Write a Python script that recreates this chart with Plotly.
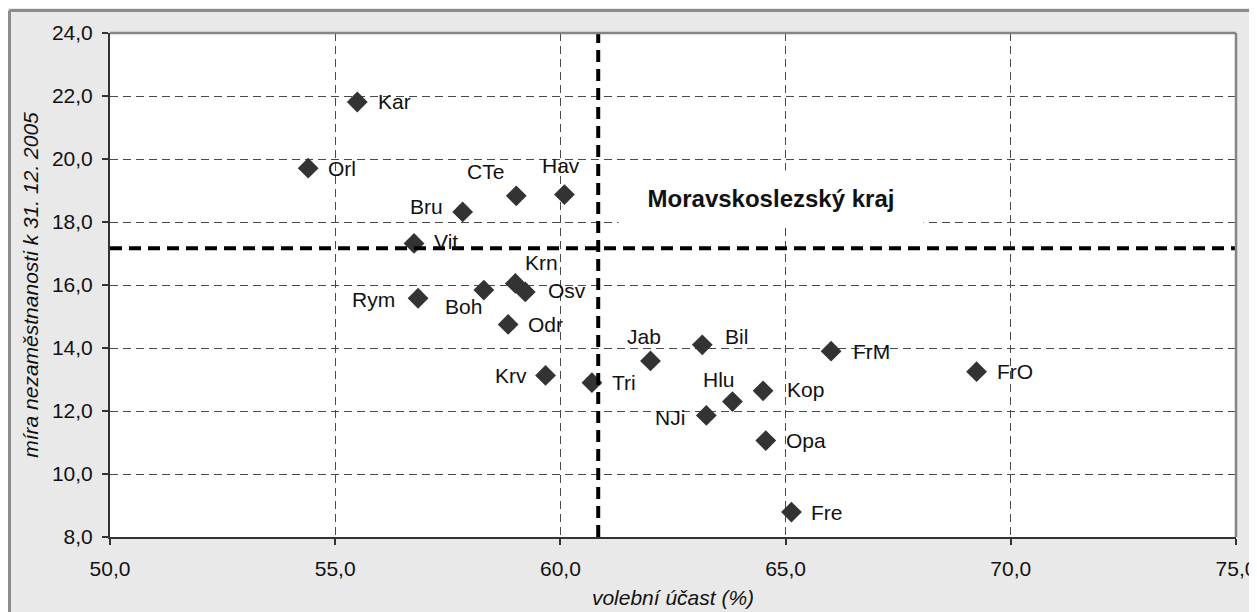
import plotly.graph_objects as go

# okresy Moravskoslezského kraje
names = ["Kar", "Orl", "CTe", "Hav", "Bru", "Vit", "Krn", "Osv", "Boh", "Rym", "Odr",
         "Krv", "Tri", "Jab", "Bil", "Hlu", "NJi", "Kop", "Opa", "Fre", "FrM", "FrO"]
turnout = [55.49, 54.40, 59.02, 60.09, 57.83, 56.75, 59.00, 59.22, 58.30, 56.84, 58.84,
           59.67, 60.70, 62.00, 63.15, 63.82, 63.24, 64.50, 64.56, 65.13, 66.01, 69.24]
unemployment = [21.81, 19.71, 18.83, 18.87, 18.32, 17.32, 16.05, 15.78, 15.84, 15.58, 14.75,
                13.13, 12.90, 13.59, 14.10, 12.30, 11.86, 12.64, 11.06, 8.79, 13.90, 13.25]

# průměr za kraj
region_name = "Moravskoslezský kraj"
region_turnout = 60.84
region_unemployment = 17.17

# label placement (anchor, x shift, y shift) in pixels
label_pos = {
    "Kar": ("left", 19, 0), "Orl": ("left", 18, 0), "CTe": ("center", -31, 24),
    "Hav": ("center", -3, 29), "Bru": ("center", -36, 5), "Vit": ("left", 18, 2),
    "Krn": ("center", 26, 21), "Osv": ("left", 21, 1), "Boh": ("center", -20, -16),
    "Rym": ("right", -21, -1), "Odr": ("left", 18, 0), "Krv": ("right", -17, 0),
    "Tri": ("left", 18, 0), "Jab": ("center", -6, 24), "Bil": ("left", 21, 8),
    "Hlu": ("center", -13, 22), "NJi": ("right", -19, -2), "Kop": ("left", 22, 1),
    "Opa": ("left", 18, 0), "Fre": ("left", 18, 0), "FrM": ("left", 20, 0),
    "FrO": ("left", 18, 0),
}

FONT = "Arial, Liberation Sans, sans-serif"
# page body keeps its 8px margin, which gives the white strip left and top
W, H = 1249, 604
L, R, T, B = 102, 21, 25, 75


def px(x):
    return (x - L) / (W - L - R)


def py(y):
    return (H - B - y) / (H - T - B)


fig = go.Figure()
fig.add_trace(go.Scatter(
    x=turnout, y=unemployment, mode="markers",
    marker=dict(symbol="diamond", size=16, color="#333333"),
    hovertext=names, showlegend=False))

for n, xv, yv in zip(names, turnout, unemployment):
    anchor, dx, dy = label_pos[n]
    fig.add_annotation(x=xv, y=yv, text=n, showarrow=False, xanchor=anchor,
                       yanchor="middle", xshift=dx, yshift=dy,
                       font=dict(family=FONT, size=21, color="#111111"))

fig.add_annotation(x=64.67, y=18.76, text="<b>" + region_name + "</b>", showarrow=False,
                   width=302, height=52, bgcolor="white",
                   font=dict(family=FONT, size=24, color="#111111"))

fig.add_vline(x=region_turnout, line=dict(color="black", width=4, dash="12px,7px"))
fig.add_hline(y=region_unemployment, line=dict(color="black", width=4, dash="12px,7px"))

# frame of the chart
shapes = [
    dict(type="line", xref="paper", yref="paper", x0=px(1.5), x1=px(1.5), y0=py(2.5), y1=py(700),
         line=dict(color="#8c8c8c", width=3)),
    dict(type="line", xref="paper", yref="paper", x0=px(1.5), x1=px(1300), y0=py(2.5), y1=py(2.5),
         line=dict(color="#8c8c8c", width=3)),
    dict(type="line", xref="paper", yref="paper", x0=0, x1=1, y0=1, y1=1,
         line=dict(color="#858585", width=2.5)),
    dict(type="line", xref="paper", yref="paper", x0=1, x1=1, y0=0, y1=1,
         line=dict(color="#858585", width=2.5)),
]
for s in shapes:
    fig.add_shape(**s)

axis_common = dict(
    showgrid=True, gridcolor="#4a4a4a", gridwidth=1, griddash="8px,5px",
    zeroline=False, showline=True, linecolor="#333333", linewidth=2,
    ticks="outside", ticklen=6, tickcolor="#333333", tickwidth=1.5,
    tickformat=".1f", tickfont=dict(family=FONT, size=21, color="#111111"),
    automargin=False,
)

fig.update_xaxes(range=[50, 75], dtick=5, ticklabelstandoff=6, **axis_common,
                 title=dict(text="<i>volební účast (%)</i>", standoff=11,
                            font=dict(family=FONT, size=21, color="#111111")))
fig.update_yaxes(range=[8, 24], dtick=2, ticklabelstandoff=5, **axis_common,
                 title=dict(text="<i>míra nezaměstnanosti k 31. 12. 2005</i>", standoff=8,
                            font=dict(family=FONT, size=21, color="#111111")))

fig.update_layout(
    width=W, height=H,
    margin=dict(l=L, r=R, t=T, b=B),
    paper_bgcolor="#e9e9e9", plot_bgcolor="white",
    separators=", ",
    font=dict(family=FONT),
)

fig.write_html("out.html")
